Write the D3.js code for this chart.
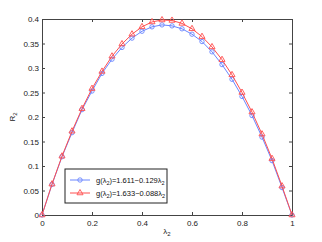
<!DOCTYPE html>
<html>
<head>
<meta charset="utf-8">
<script src="https://cdn.jsdelivr.net/npm/d3@7.9.0/dist/d3.min.js"></script>
<style>
  body { margin: 0; background: #fff; }
  text { font-family: "Liberation Sans", Arial, sans-serif; }
</style>
</head>
<body>
<svg id="chart" width="322" height="242"></svg>
<script>
const lambdas = [0, 0.04, 0.08, 0.12, 0.16, 0.2, 0.24, 0.28, 0.32, 0.36, 0.4, 0.44, 0.48,
                 0.52, 0.56, 0.6, 0.64, 0.68, 0.72, 0.76, 0.8, 0.84, 0.88, 0.92, 0.96, 1];
const blueVals = [0, 0.0625, 0.119, 0.168, 0.215, 0.253, 0.289, 0.318, 0.342, 0.361, 0.375, 0.384, 0.388,
                  0.386, 0.380, 0.369, 0.354, 0.333, 0.307, 0.277, 0.242, 0.203, 0.159, 0.111, 0.056, 0];
const redVals = [0, 0.063, 0.120, 0.171, 0.217, 0.258, 0.293, 0.324, 0.349, 0.369, 0.384, 0.394, 0.398,
                 0.397, 0.391, 0.380, 0.364, 0.343, 0.317, 0.286, 0.250, 0.210, 0.165, 0.115, 0.059, 0];
const xTicks = [0, 0.2, 0.4, 0.6, 0.8, 1];
const yTicks = [0, 0.05, 0.1, 0.15, 0.2, 0.25, 0.3, 0.35, 0.4];
const legendLabels = [["g(λ", "2", ")=1.611−0.129λ", "2"], ["g(λ", "2", ")=1.633−0.088λ", "2"]];

const svg = d3.select("#chart");
const margin = { top: 19, right: 30, bottom: 27, left: 42 };
const width = 322 - margin.left - margin.right;
const height = 242 - margin.top - margin.bottom;
const g = svg.append("g").attr("transform", `translate(${margin.left},${margin.top})`);

const x = d3.scaleLinear().domain([0, 1]).range([0, width]);
const y = d3.scaleLinear().domain([0, 0.4]).range([height, 0]);

const blue = "#6a86ff";
const red = "#ff4f4f";

// axes, inward ticks on all four sides
const fmt = d => d === 0 ? "0" : (d === 1 ? "1" : String(+d.toFixed(2)));
g.append("g").attr("transform", `translate(0,${height})`)
  .call(d3.axisBottom(x).tickValues(xTicks).tickSizeInner(-3).tickSizeOuter(0).tickPadding(5).tickFormat(fmt));
g.append("g")
  .call(d3.axisLeft(y).tickValues(yTicks).tickSizeInner(-3).tickSizeOuter(0).tickPadding(3).tickFormat(fmt));
g.append("g")
  .call(d3.axisTop(x).tickValues(xTicks).tickSizeInner(-3).tickSizeOuter(0).tickFormat(""));
g.append("g").attr("transform", `translate(${width},0)`)
  .call(d3.axisRight(y).tickValues(yTicks).tickSizeInner(-3).tickSizeOuter(0).tickFormat(""));
g.selectAll(".domain").attr("stroke", "#444").attr("stroke-width", 1);
g.selectAll(".tick line").attr("stroke", "#444");
g.selectAll(".tick text").attr("font-size", 8).attr("fill", "#222");

const line = d3.line().x(d => x(d[0])).y(d => y(d[1]));
const blueData = lambdas.map((l, i) => [l, blueVals[i]]);
const redData = lambdas.map((l, i) => [l, redVals[i]]);

const tri = d3.symbol().type(d3.symbolTriangle).size(16);

function drawSeries(data, color, marker) {
  g.append("path").datum(data)
    .attr("fill", "none").attr("stroke", color).attr("stroke-width", 1).attr("d", line);
  if (marker === "circle") {
    g.selectAll(null).data(data).enter().append("circle")
      .attr("cx", d => x(d[0])).attr("cy", d => y(d[1])).attr("r", 2.2)
      .attr("fill", "none").attr("stroke", color).attr("stroke-width", 0.9);
  } else {
    g.selectAll(null).data(data).enter().append("path")
      .attr("transform", d => `translate(${x(d[0])},${y(d[1])})`)
      .attr("d", tri).attr("fill", "none").attr("stroke", color).attr("stroke-width", 0.9);
  }
}
drawSeries(blueData, blue, "circle");
drawSeries(redData, red, "triangle");

// axis labels
function subLabel(sel, base, sub) {
  sel.append("tspan").text(base);
  sel.append("tspan").attr("dy", 2).attr("font-size", 6).text(sub);
}
const xl = svg.append("text").attr("x", margin.left + width / 2).attr("y", 234)
  .attr("text-anchor", "middle").attr("font-size", 8).attr("fill", "#222");
subLabel(xl, "λ", "2");
const yl = svg.append("text").attr("transform", `translate(15,${margin.top + height / 2}) rotate(-90)`)
  .attr("text-anchor", "middle").attr("font-size", 8).attr("fill", "#222");
subLabel(yl, "R", "2");

// legend
const lg = svg.append("g").attr("transform", "translate(65,169)");
lg.append("rect").attr("width", 102).attr("height", 34)
  .attr("fill", "#fff").attr("stroke", "#222").attr("stroke-width", 1);
[[blue, "circle"], [red, "triangle"]].forEach(([color, m], i) => {
  const ry = 11 + i * 13;
  lg.append("line").attr("x1", 5).attr("x2", 25).attr("y1", ry).attr("y2", ry)
    .attr("stroke", color).attr("stroke-width", 1);
  if (m === "circle") {
    lg.append("circle").attr("cx", 15).attr("cy", ry).attr("r", 2.2)
      .attr("fill", "none").attr("stroke", color).attr("stroke-width", 0.9);
  } else {
    lg.append("path").attr("transform", `translate(15,${ry})`).attr("d", tri)
      .attr("fill", "none").attr("stroke", color).attr("stroke-width", 0.9);
  }
  const t = lg.append("text").attr("x", 31).attr("y", ry + 3)
    .attr("font-size", 7.5).attr("fill", "#111");
  const parts = legendLabels[i];
  t.append("tspan").text(parts[0]);
  t.append("tspan").attr("dy", 2).attr("font-size", 5.5).text(parts[1]);
  t.append("tspan").attr("dy", -2).text(parts[2]);
  t.append("tspan").attr("dy", 2).attr("font-size", 5.5).text(parts[3]);
});
</script>
</body>
</html>
